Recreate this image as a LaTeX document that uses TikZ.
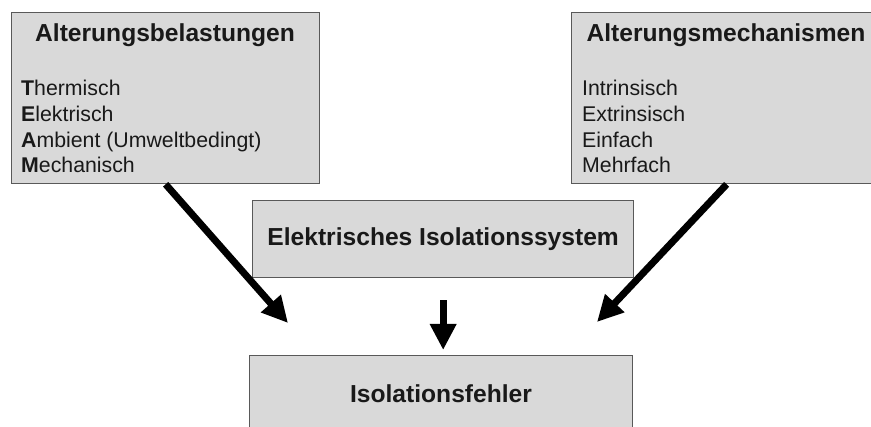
\documentclass[tikz,border=0pt]{standalone}
\usepackage{fontspec}
\setmainfont{Liberation Sans}
\usetikzlibrary{arrows.meta}

\tikzset{
  box/.style={draw=black!65, line width=1.3pt, fill=black!15, inner sep=0pt},
  titeltext/.style={font=\fontsize{24.6}{28}\selectfont\bfseries, text=black!90, inner sep=0pt},
  listtext/.style={font=\fontsize{21.3}{25.7}\selectfont, text=black!90, align=left, inner sep=0pt},
  dickpfeil/.style={line width=7pt, -{Triangle[width=25pt,length=26pt]}}
}

\begin{document}
\begin{tikzpicture}[x=1pt,y=-1pt]
\useasboundingbox (0,0) rectangle (871,427);

% Kaesten
\node[box, anchor=north west, minimum width=308pt, minimum height=171pt] (belast) at (11,12) {};
\node[box, anchor=north west, minimum width=310pt, minimum height=171pt] (mech) at (571,12) {};
\node[box, titeltext, anchor=north west, minimum width=381pt, minimum height=77pt] (system) at (252,200) {Elektrisches Isolationssystem};
\node[box, titeltext, anchor=north west, minimum width=383pt, minimum height=90pt] (fehler) at (249,355) {};
\node[titeltext, anchor=base] (fehlertext) at (441,403) {Isolationsfehler};

% Texte
\node[titeltext, anchor=base] (belasttitel) at (165,42) {Alterungsbelastungen};
\node[listtext, anchor=north west] (belastliste) at (21,80)
  {\textbf{T}hermisch\\ \textbf{E}lektrisch\\ \textbf{A}mbient (Umweltbedingt)\\ \textbf{M}echanisch};
\node[titeltext, anchor=base] (mechtitel) at (726,42) {Alterungsmechanismen};
\node[listtext, anchor=north west] (mechliste) at (582,80)
  {Intrinsisch\\ Extrinsisch\\ Einfach\\ Mehrfach};

% Pfeile
\coordinate (linksspitze) at (288,323);
\coordinate (rechtsspitze) at (597,322);
\draw[dickpfeil] (belast.south) -- (linksspitze);
\draw[dickpfeil] (mech.south) -- (rechtsspitze);
\draw[dickpfeil] ([yshift=-22pt]system.south) -- ([yshift=5pt]system.south |- fehler.north);
\end{tikzpicture}
\end{document}
